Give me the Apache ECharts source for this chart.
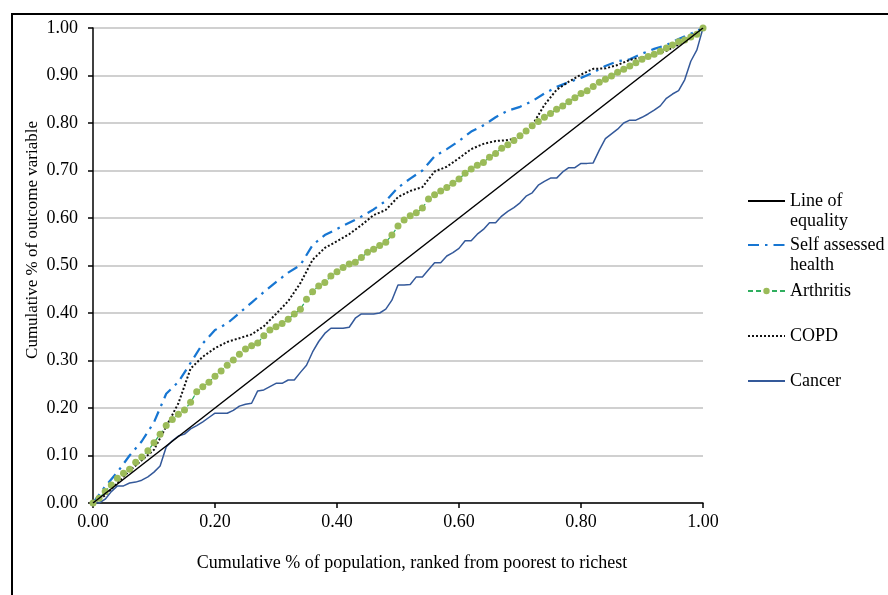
<!DOCTYPE html>
<html lang="en">
<head>
<meta charset="UTF-8">
<title>Concentration curves</title>
<script src="https://cdn.jsdelivr.net/npm/echarts@6/dist/echarts.min.js"></script>
<style>
  html, body { margin: 0; padding: 0; background: #fff; }
  #chart { width: 888px; height: 595px; }
</style>
</head>
<body>
<div id="chart"></div>
<script>
// population share, 0.01 steps (Arthritis, Cancer)
var pop01 = [0.00,0.01,0.02,0.03,0.04,0.05,0.06,0.07,0.08,0.09,
  0.10,0.11,0.12,0.13,0.14,0.15,0.16,0.17,0.18,0.19,
  0.20,0.21,0.22,0.23,0.24,0.25,0.26,0.27,0.28,0.29,
  0.30,0.31,0.32,0.33,0.34,0.35,0.36,0.37,0.38,0.39,
  0.40,0.41,0.42,0.43,0.44,0.45,0.46,0.47,0.48,0.49,
  0.50,0.51,0.52,0.53,0.54,0.55,0.56,0.57,0.58,0.59,
  0.60,0.61,0.62,0.63,0.64,0.65,0.66,0.67,0.68,0.69,
  0.70,0.71,0.72,0.73,0.74,0.75,0.76,0.77,0.78,0.79,
  0.80,0.81,0.82,0.83,0.84,0.85,0.86,0.87,0.88,0.89,
  0.90,0.91,0.92,0.93,0.94,0.95,0.96,0.97,0.98,0.99,1.00];
// population share, 0.02 steps (Self assessed health, COPD)
var pop02 = [0.00,0.02,0.04,0.06,0.08,0.10,0.12,0.14,0.16,0.18,
  0.20,0.22,0.24,0.26,0.28,0.30,0.32,0.34,0.36,0.38,
  0.40,0.42,0.44,0.46,0.48,0.50,0.52,0.54,0.56,0.58,
  0.60,0.62,0.64,0.66,0.68,0.70,0.72,0.74,0.76,0.78,
  0.80,0.82,0.84,0.86,0.88,0.90,0.92,0.94,0.96,0.98,1.00];
var popEq = [0, 1];
var equality = [0, 1];

var selfHealth = [0,0.035,0.065,0.10,0.13,0.17,0.23,0.255,0.295,0.336,
  0.364,0.378,0.40,0.422,0.444,0.465,0.485,0.501,0.543,0.564,
  0.577,0.59,0.603,0.618,0.636,0.664,0.683,0.70,0.73,0.745,
  0.762,0.782,0.795,0.812,0.826,0.834,0.846,0.862,0.876,0.886,
  0.895,0.906,0.92,0.93,0.934,0.946,0.956,0.964,0.977,0.988,1];

var copd = [0,0.016,0.042,0.068,0.09,0.112,0.161,0.21,0.283,0.308,
  0.326,0.339,0.347,0.355,0.372,0.398,0.425,0.463,0.512,0.537,
  0.551,0.566,0.585,0.606,0.617,0.644,0.657,0.665,0.698,0.708,
  0.726,0.745,0.756,0.762,0.764,0.77,0.795,0.838,0.87,0.887,
  0.902,0.914,0.915,0.922,0.933,0.938,0.944,0.952,0.965,0.982,1];

var arthritis = [0,0.01,0.024,0.038,0.052,0.0625,0.071,0.086,0.097,0.11,
  0.127,0.145,0.163,0.176,0.187,0.196,0.212,0.234,0.245,0.254,
  0.267,0.278,0.29,0.301,0.313,0.324,0.331,0.337,0.352,0.364,
  0.371,0.378,0.387,0.398,0.408,0.429,0.445,0.457,0.464,0.478,
  0.487,0.496,0.503,0.507,0.517,0.528,0.534,0.542,0.549,0.564,
  0.583,0.596,0.605,0.611,0.621,0.64,0.649,0.657,0.664,0.673,
  0.682,0.694,0.703,0.711,0.717,0.728,0.736,0.747,0.754,0.763,
  0.773,0.783,0.794,0.803,0.812,0.82,0.829,0.836,0.845,0.853,
  0.862,0.868,0.877,0.886,0.892,0.899,0.907,0.913,0.92,0.927,
  0.934,0.94,0.945,0.951,0.958,0.964,0.971,0.975,0.981,0.987,1];

var cancer = [0,0,0.008,0.024,0.036,0.036,0.042,0.044,0.048,0.055,
  0.065,0.078,0.118,0.131,0.141,0.145,0.156,0.163,0.171,0.18,
  0.189,0.189,0.189,0.195,0.204,0.208,0.21,0.236,0.238,0.245,
  0.252,0.252,0.259,0.259,0.275,0.29,0.318,0.34,0.357,0.368,
  0.368,0.368,0.37,0.389,0.398,0.398,0.398,0.40,0.408,0.427,
  0.459,0.459,0.46,0.476,0.476,0.491,0.506,0.506,0.52,0.527,
  0.536,0.552,0.552,0.566,0.576,0.59,0.59,0.604,0.614,0.622,
  0.632,0.646,0.653,0.669,0.677,0.684,0.684,0.697,0.706,0.706,
  0.715,0.715,0.716,0.743,0.767,0.777,0.787,0.80,0.806,0.806,
  0.812,0.819,0.827,0.836,0.852,0.861,0.868,0.891,0.93,0.954,1];

var yTicks = ['0.00','0.10','0.20','0.30','0.40','0.50','0.60','0.70','0.80','0.90','1.00'];

function pairs(xs, ys) {
    return xs.map(function (x, i) { return [x, ys[i]]; });
}

var serif = 'Liberation Serif';
var chart = echarts.init(document.getElementById('chart'), null, { renderer: 'canvas' });

// one legend box per entry so the wrapped names sit like the original
// (leading empty line puts the first text line level with the icon)
function legendItem(name, top, showDot) {
    return {
        data: [name],
        orient: 'vertical',
        left: 747,
        top: top,
        padding: 0,
        itemWidth: 37,
        itemHeight: 8,
        selectedMode: false,
        itemStyle: showDot ? {} : { opacity: 0 },
        formatter: function (n) {
            if (n === 'Line of equality') return ' \nLine of\nequality';
            if (n === 'Self assessed health') return ' \nSelf assessed\nhealth';
            return n;
        },
        textStyle: { fontFamily: serif, fontSize: 18, color: '#000', lineHeight: 20 }
    };
}

chart.setOption({
    backgroundColor: '#fff',
    animation: false,
    grid: { left: 93, top: 28, width: 610, height: 475 },
    legend: [
        legendItem('Line of equality', 171, false),
        legendItem('Self assessed health', 215, false),
        legendItem('Arthritis', 281, true),
        legendItem('COPD', 326, false),
        legendItem('Cancer', 371, false)
    ],
    xAxis: {
        type: 'value', min: 0, max: 1, interval: 0.2,
        axisLine: { lineStyle: { color: '#000', width: 1.5 } },
        axisTick: { show: true, length: 5, lineStyle: { color: '#000', width: 1.5 } },
        axisLabel: {
            margin: 10, fontFamily: serif, fontSize: 18, color: '#000',
            formatter: function (v) { return v.toFixed(2); }
        },
        splitLine: { show: false }
    },
    yAxis: {
        type: 'value', min: 0, max: 1, interval: 0.1,
        axisLine: { show: true, lineStyle: { color: '#000', width: 1.5 } },
        axisTick: { show: true, length: 5, lineStyle: { color: '#000', width: 1.5 } },
        axisLabel: {
            margin: 15, fontFamily: serif, fontSize: 18, color: '#000',
            formatter: function (v) { return yTicks[Math.round(v * 10)]; }
        },
        splitLine: { lineStyle: { color: '#d0d0d0', width: 2 } }
    },
    graphic: [
        { type: 'rect', silent: true, shape: { x: 12, y: 14, width: 1000, height: 700 },
          style: { fill: null, stroke: '#000', lineWidth: 2 } },
        { type: 'text', x: 33, y: 240, rotation: Math.PI / 2,
          style: { text: 'Cumulative % of outcome variable', fontFamily: serif, fontSize: 17,
                   fill: '#000', align: 'center', verticalAlign: 'middle' } },
        { type: 'text', x: 412, y: 563,
          style: { text: 'Cumulative % of population, ranked from poorest to richest', fontFamily: serif,
                   fontSize: 18, fill: '#000', align: 'center', verticalAlign: 'middle' } }
    ],
    series: [
        {
            name: 'Line of equality', type: 'line', data: pairs(popEq, equality),
            symbol: 'none', lineStyle: { color: '#000', width: 1.5 }, itemStyle: { color: '#000' }, z: 5
        },
        {
            name: 'Self assessed health', type: 'line', data: pairs(pop02, selfHealth),
            symbol: 'none', lineStyle: { color: '#1776D2', width: 2.25, type: [11, 6, 2.5, 6] },
            itemStyle: { color: '#1776D2' }
        },
        {
            name: 'Arthritis', type: 'line', data: pairs(pop01, arthritis),
            symbol: 'circle', symbolSize: 7, showSymbol: true,
            lineStyle: { color: '#2FAE5E', width: 1.25, type: [5, 3] },
            itemStyle: { color: '#9BBB59' }
        },
        {
            name: 'COPD', type: 'line', data: pairs(pop02, copd),
            symbol: 'none', lineStyle: { color: '#111', width: 2, type: [2, 2] },
            itemStyle: { color: '#111' }
        },
        {
            name: 'Cancer', type: 'line', data: pairs(pop01, cancer),
            symbol: 'none', lineStyle: { color: '#34599A', width: 1.5 },
            itemStyle: { color: '#34599A' }
        }
    ]
});
</script>
</body>
</html>
